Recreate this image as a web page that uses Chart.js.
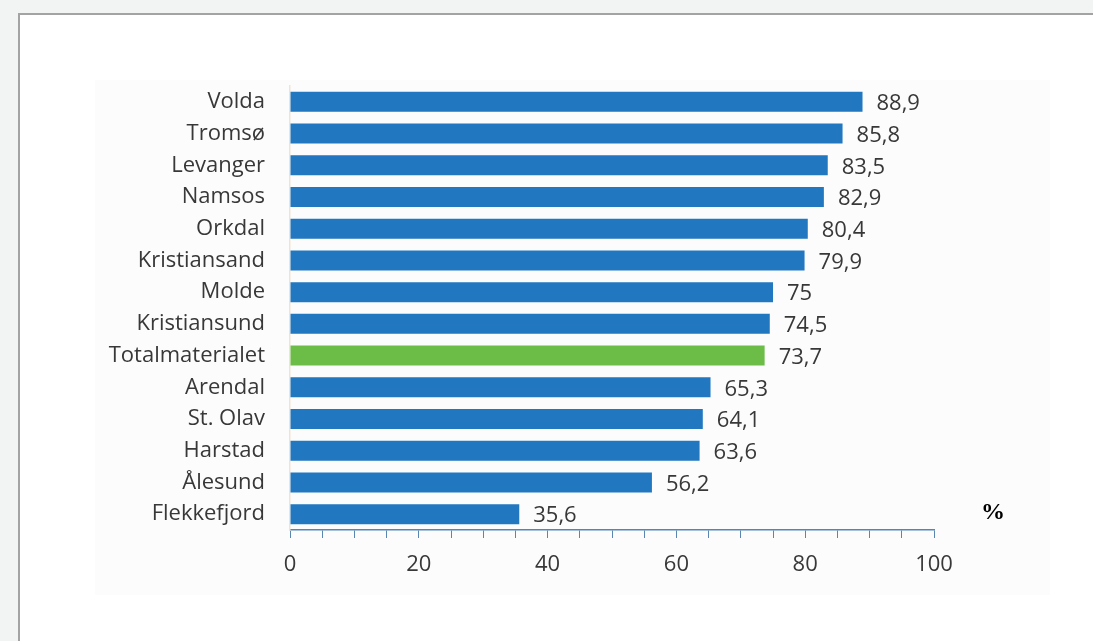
<!DOCTYPE html>
<html>
<head>
<meta charset="utf-8">
<script src="https://cdn.jsdelivr.net/npm/chart.js@4"></script>
<style>
  html, body { margin: 0; padding: 0; width: 1093px; height: 641px; background: #f2f3f3; overflow: hidden; }
  #panel { position: fixed; left: 18px; top: 13px; right: 0; bottom: 0;
           background: #fff; border-top: 2px solid #a3a3a3; border-left: 2px solid #a3a3a3; }
  #plotbg { position: fixed; left: 95px; top: 80px; width: 955px; height: 515px; background: #fcfcfc; }
  #wrap { position: fixed; left: 0; top: 0; width: 1093px; height: 641px; }
</style>
</head>
<body>
<div id="panel"></div>
<div id="plotbg"></div>
<div id="wrap"><canvas id="grafica"></canvas></div>
<script>
let sykehus = ['Volda', 'Tromsø', 'Levanger', 'Namsos', 'Orkdal', 'Kristiansand', 'Molde',
    'Kristiansund', 'Totalmaterialet', 'Arendal', 'St. Olav', 'Harstad', 'Ålesund', 'Flekkefjord'];
let andel = [88.9, 85.8, 83.5, 82.9, 80.4, 79.9, 75, 74.5, 73.7, 65.3, 64.1, 63.6, 56.2, 35.6];
let farger = sykehus.map(s => s === 'Totalmaterialet' ? '#6bbd47' : '#2178c1');
let aksetall = [0, 20, 40, 60, 80, 100];

const fontFamily = '"Open Sans", sans-serif';
const tekstfarge = '#383838';

// verdier ved enden av hver søyle, og % ved x-aksen
const etiketter = {
    id: 'etiketter',
    afterDatasetsDraw(chart) {
        let ctx = chart.ctx;
        let meta = chart.getDatasetMeta(0);
        ctx.save();
        ctx.font = '22px ' + fontFamily;
        ctx.fillStyle = tekstfarge;
        ctx.textAlign = 'left';
        ctx.textBaseline = 'middle';
        meta.data.forEach((bar, i) => {
            ctx.fillText(String(andel[i]).replace('.', ','), bar.x + 14, bar.y + 2);
        });
        ctx.font = 'bold 24px "Liberation Serif", serif';
        ctx.fillStyle = '#000';
        ctx.fillText('%', chart.scales.x.right + 47, chart.chartArea.bottom - 17);
        ctx.restore();
    }
};

let chart = new Chart(document.getElementById('grafica').getContext('2d'), {
    type: 'bar',
    data: {
        labels: sykehus,
        datasets: [{
            data: andel,
            backgroundColor: farger,
            categoryPercentage: 1,
            barPercentage: 0.63
        }]
    },
    options: {
        indexAxis: 'y',
        responsive: true,
        maintainAspectRatio: false,
        animation: false,
        layout: { padding: { left: 50, right: 159, top: 86, bottom: 51 } },
        plugins: {
            legend: { display: false },
            tooltip: { enabled: false }
        },
        scales: {
            x: {
                min: 0,
                max: 100,
                afterFit: s => { s.height = 60; },
                afterBuildTicks: s => {
                    let t = [];
                    for (let v = 0; v <= 100; v += 5) t.push({ value: v });
                    s.ticks = t;
                },
                ticks: {
                    autoSkip: false,
                    maxRotation: 0,
                    padding: 14,
                    color: tekstfarge,
                    font: { family: fontFamily, size: 22 },
                    callback: v => aksetall.includes(v) ? String(v) : ''
                },
                grid: { drawOnChartArea: false, tickLength: 8, tickColor: '#5a86b0', tickWidth: 1 },
                border: { color: '#4f86bb', width: 1.5 }
            },
            y: {
                afterFit: s => { s.width = 240; },
                ticks: {
                    padding: 17,
                    color: tekstfarge,
                    font: { family: fontFamily, size: 22 }
                },
                grid: { display: false },
                border: { color: '#efe3d3', width: 1.5 }
            }
        }
    },
    plugins: [etiketter]
});
</script>
</body>
</html>
